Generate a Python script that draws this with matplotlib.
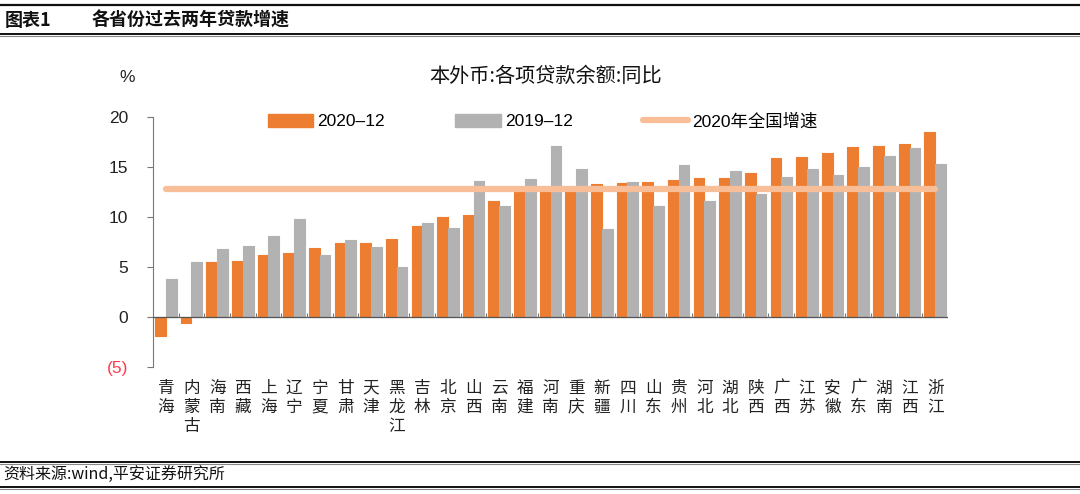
import matplotlib
matplotlib.use("Agg")
import matplotlib.pyplot as plt
from matplotlib.lines import Line2D
from matplotlib.patches import Patch
import numpy as np

plt.rcParams['font.family'] = ['Liberation Sans', 'Noto Sans CJK SC', 'DejaVu Sans']
plt.rcParams['axes.unicode_minus'] = False

provinces = ["青海", "内蒙古", "海南", "西藏", "上海", "辽宁", "宁夏", "甘肃", "天津", "黑龙江",
             "吉林", "北京", "山西", "云南", "福建", "河南", "重庆", "新疆", "四川", "山东",
             "贵州", "河北", "湖北", "陕西", "广西", "江苏", "安徽", "广东", "湖南", "江西", "浙江"]
growth_2020 = [-1.9, -0.6, 5.5, 5.6, 6.2, 6.4, 6.9, 7.4, 7.4, 7.8,
               9.1, 10.0, 10.2, 11.6, 12.9, 12.9, 12.8, 13.3, 13.4, 13.5,
               13.7, 13.9, 13.9, 14.4, 15.9, 16.0, 16.4, 17.0, 17.1, 17.3, 18.5]
growth_2019 = [3.8, 5.5, 6.8, 7.1, 8.1, 9.8, 6.2, 7.7, 7.0, 5.0,
               9.4, 8.9, 13.6, 11.1, 13.8, 17.1, 14.8, 8.8, 13.5, 11.1,
               15.2, 11.6, 14.6, 12.3, 14.0, 14.8, 14.2, 15.0, 16.1, 16.9, 15.3]
national_2020 = 12.8
yticks = [-5, 0, 5, 10, 15, 20]
ytick_labels = ["(5)", "0", "5", "10", "15", "20"]
series_names = ["2020–12", "2019–12", "2020年全国增速"]

ORANGE = "#ED7D31"
GRAY = "#B2B2B2"
LINEC = "#F8BE98"

W, H = 1080, 494
fig = plt.figure(figsize=(W / 100, H / 100), dpi=100)

def fx(px):
    return px / W

def fy(py):
    return 1 - py / H

ax = fig.add_axes([fx(153), fy(367), fx(948) - fx(153), fy(117) - fy(367)])

x = np.arange(len(provinces))
bw = 0.42
ax.bar(x - bw / 2, growth_2020, width=bw, color=ORANGE, edgecolor=ORANGE, linewidth=0.8,
       joinstyle='round', zorder=2)
ax.bar(x + bw / 2, growth_2019, width=bw, color=GRAY, edgecolor=GRAY, linewidth=0.8,
       joinstyle='round', zorder=2)
ax.plot([x[0], x[-1]], [national_2020, national_2020], color=LINEC, linewidth=4.5,
        solid_capstyle='round', zorder=3)

ax.set_xlim(-0.5, len(provinces) - 0.5)
ax.set_ylim(-5, 20)
ax.axhline(0, color="#555555", linewidth=0.9, zorder=4)
ax.vlines(np.arange(len(provinces)) + 0.5, 0, 0.45, color="#777777", linewidth=0.8, zorder=4)

for s in ["top", "right", "bottom"]:
    ax.spines[s].set_visible(False)
ax.spines["left"].set_color("#777777")
ax.spines["left"].set_linewidth(0.8)

ax.set_yticks(yticks)
ax.set_yticklabels(ytick_labels, fontsize=12.5, color="#222222")
ax.get_yticklabels()[0].set_color("#FF3B4E")
ax.tick_params(axis='y', length=4, color="#777777", pad=14)

ax.set_xticks(x)
ax.set_xticklabels(["\n".join(p) for p in provinces], fontsize=12,
                   family=['Noto Sans CJK SC'], linespacing=1.17, color="#222222")
ax.tick_params(axis='x', length=0, pad=9)

handles = [Patch(facecolor=ORANGE, edgecolor=ORANGE),
           Patch(facecolor=GRAY, edgecolor=GRAY),
           Line2D([0], [0], color=LINEC, linewidth=4.5, solid_capstyle='round')]
fig.legend(handles, series_names, loc='center left', bbox_to_anchor=(fx(268), fy(121)),
           ncol=3, frameon=False, fontsize=12.5, handlelength=2.6, handleheight=0.8,
           handletextpad=0.25, columnspacing=4.05, borderpad=0, borderaxespad=0)

fig.text(fx(546), fy(76), "本外币:各项贷款余额:同比", ha='center', va='center',
         fontsize=14.5, color="#111111", family=['Noto Sans CJK SC'])
fig.text(fx(127), fy(77), "%", ha='center', va='center', fontsize=12.5, color="#222222")

fig.text(fx(5), fy(20), "图表1", ha='left', va='center', fontsize=13, fontweight='bold',
         family=['Noto Sans CJK SC'], color="#111111")
fig.text(fx(92), fy(20), "各省份过去两年贷款增速", ha='left', va='center', fontsize=13,
         fontweight='bold', family=['Noto Sans CJK SC'], color="#111111")
fig.text(fx(3), fy(474), "资料来源:wind,平安证券研究所", ha='left', va='center', fontsize=11.5,
         style='italic', family=['Noto Sans CJK SC'], color="#111111")

def hline(py, lw, color):
    fig.add_artist(Line2D([0, 1], [fy(py), fy(py)], transform=fig.transFigure,
                          color=color, linewidth=lw))

hline(5, 1.6, "#111111")
hline(34, 1.4, "#111111")
hline(36, 0.8, "#888888")
hline(462, 1.4, "#111111")
hline(464, 0.8, "#888888")
hline(487, 1.4, "#111111")
hline(489, 0.8, "#888888")

fig.savefig("out.png", dpi=100)
